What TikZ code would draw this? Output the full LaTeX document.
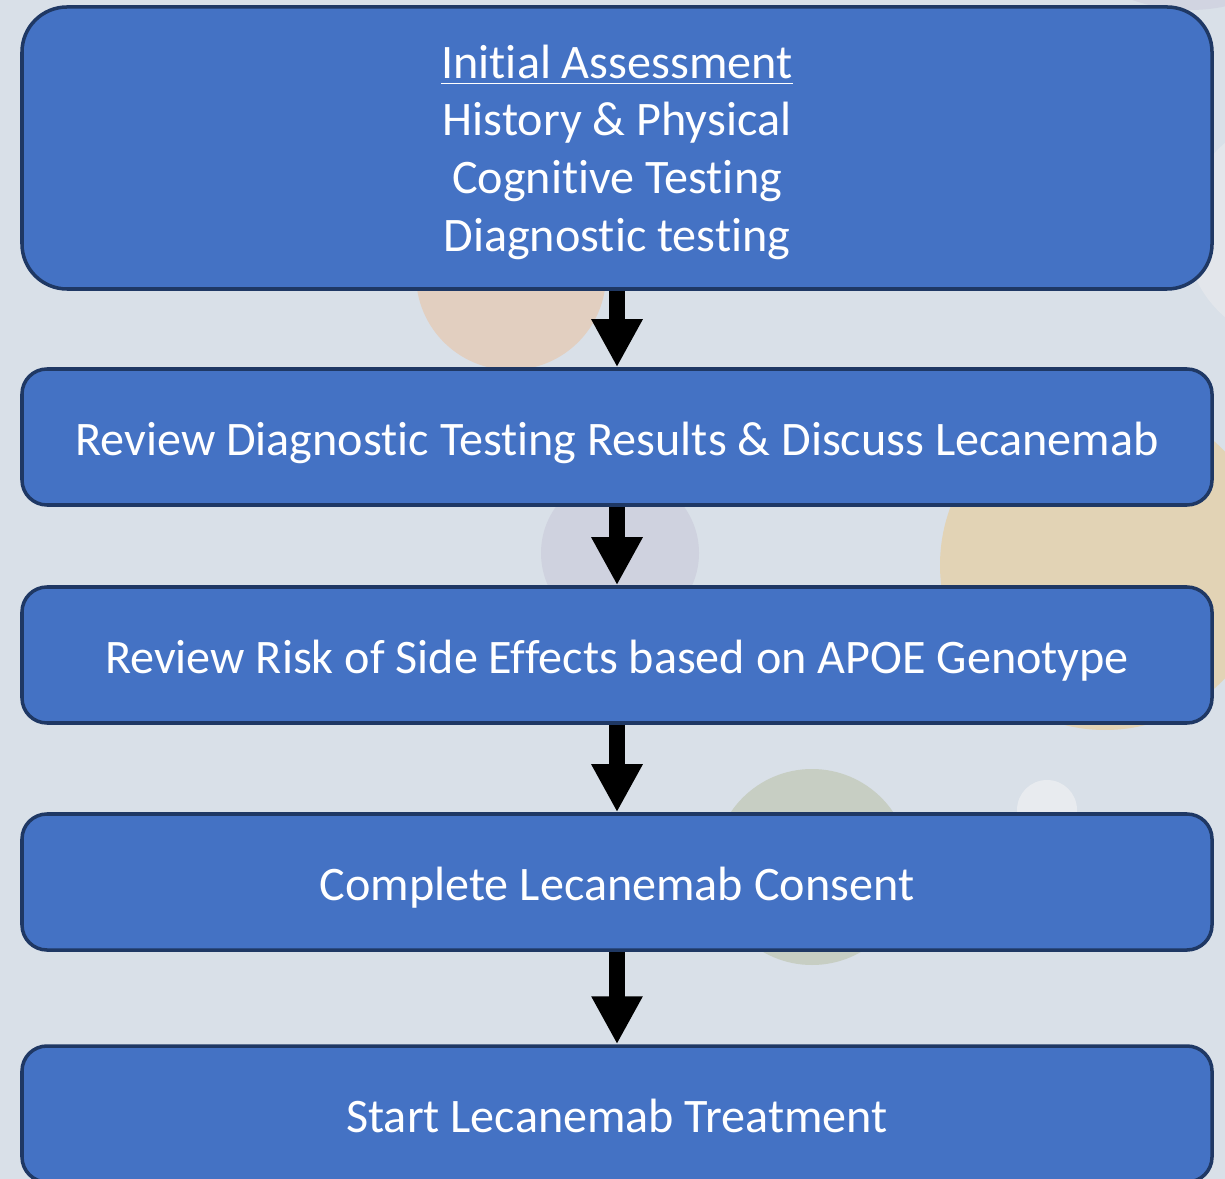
\documentclass[tikz,border=0pt]{standalone}
\usepackage{fontspec}
\setmainfont{Carlito}[Ligatures=NoCommon]
\usetikzlibrary{arrows.meta}
\definecolor{slidebg}{HTML}{D9E0E8}
\definecolor{stepblue}{HTML}{4472C4}
\definecolor{stepline}{HTML}{1F3864}
% colours of the background dots
\definecolor{dotpeach}{HTML}{E2CFC0}
\definecolor{dotlilac}{HTML}{CFD2DF}
\definecolor{dotsand}{HTML}{E2D3B5}
\definecolor{dotsage}{HTML}{C7CEC3}
\definecolor{dotpale}{HTML}{E8EBEF}
\definecolor{dotmist}{HTML}{E3E6EB}
\definecolor{dotdusk}{HTML}{D1D4E1}
\tikzstyle{stepbox}=[draw=stepline,fill=stepblue,line width=1pt,text=white,minimum width=11.9cm,align=center,font=\fontsize{13.7}{16.4}\selectfont,inner sep=0pt]
\tikzstyle{shortbox}=[stepbox,minimum height=1.36cm,rounded corners=0.25cm,text height=12pt,text depth=1.3pt]
\tikzstyle{flowarrow}=[line width=0.16cm,-{Triangle[width=4.8mm,length=4.8mm]}]
\def\bgdot(#1)(#2)#3% Syntax: (center) (radius) colour
    { \fill[#3] (#1) circle (#2); }

\begin{document}
\begin{tikzpicture}
  \useasboundingbox (0,0) rectangle (12.25,-11.79);
  \clip (0,0) rectangle (12.25,-11.79);
  \fill[slidebg] (0,0) rectangle (12.25,-11.79);
  % faint dots of the slide background
  \bgdot(13.0,-2.3)(1.15){dotmist}
  \bgdot(11.9,1.6)(1.7){dotdusk}
  \bgdot(5.11,-2.75)(0.95){dotpeach}
  \bgdot(6.20,-5.53)(0.79){dotlilac}
  \bgdot(11.05,-5.65)(1.65){dotsand}
  \bgdot(8.12,-8.67)(0.98){dotsage}
  \bgdot(10.47,-8.10)(0.30){dotpale}

  \node[stepbox,minimum height=2.82cm,rounded corners=0.45cm,text depth=0pt] (assess) at (6.17,-1.48)
    {\underline{Initial Assessment}\\History \& Physical\\Cognitive Testing\\Diagnostic testing};
  \node[shortbox] (review) at (6.17,-4.37) {Review Diagnostic Testing Results \& Discuss Lecanemab};
  \node[shortbox] (risk) at (6.17,-6.55) {Review Risk of Side Effects based on APOE Genotype};
  \node[shortbox] (consent) at (6.17,-8.82) {Complete Lecanemab Consent};
  \node[shortbox] (start) at (6.17,-11.14) {Start Lecanemab Treatment};

  \draw[flowarrow] (assess) -- (review);
  \draw[flowarrow] (review) -- (risk);
  \draw[flowarrow] (risk) -- (consent);
  \draw[flowarrow] (consent) -- (start);
\end{tikzpicture}
\end{document}
